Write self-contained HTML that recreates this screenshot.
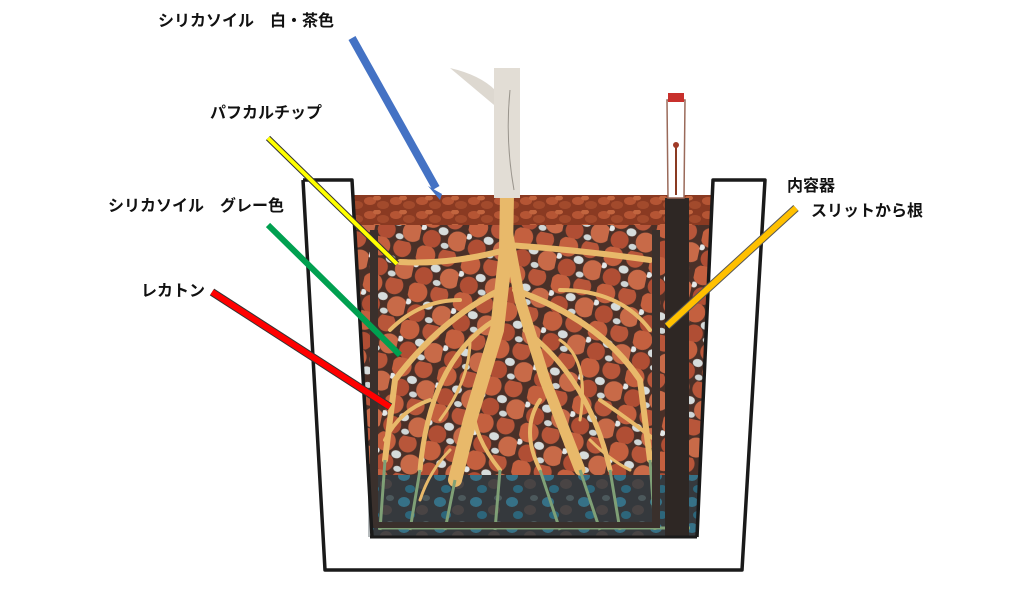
<!DOCTYPE html>
<html><head><meta charset="utf-8"><style>
html,body{margin:0;padding:0;background:#fff;width:1030px;height:600px;overflow:hidden}
svg{display:block}
text{font-family:"Liberation Sans","Noto Sans CJK JP",sans-serif;font-weight:bold;font-size:16px;fill:#111}
</style></head><body>
<svg width="1030" height="600" viewBox="0 0 1030 600" xmlns="http://www.w3.org/2000/svg">
<defs>
<pattern id="top" width="26" height="14" patternUnits="userSpaceOnUse">
<rect width="26" height="14" fill="#8a3a22"/>
<ellipse cx="6" cy="5" rx="6" ry="4" fill="#b55534"/>
<ellipse cx="19" cy="9" rx="6" ry="4" fill="#a24a2c"/>
<ellipse cx="13" cy="2" rx="4" ry="2.5" fill="#c2653f"/>
</pattern>
<pattern id="mix" width="46" height="38" patternUnits="userSpaceOnUse" patternTransform="rotate(12)">
<rect width="46" height="38" fill="#4a3028"/>
<circle cx="9" cy="9" r="10" fill="#c4603f"/>
<circle cx="31" cy="7" r="9" fill="#b8563a"/>
<ellipse cx="22" cy="20" rx="5" ry="4" fill="#d6dcdc"/>
<circle cx="38" cy="27" r="10" fill="#c86a48"/>
<circle cx="12" cy="30" r="9" fill="#b04e34"/>
<ellipse cx="2" cy="20" rx="3" ry="3" fill="#e4e8e8"/>
<ellipse cx="26" cy="34" rx="4" ry="3" fill="#cfd6d6"/>
</pattern>
<pattern id="water" width="36" height="26" patternUnits="userSpaceOnUse">
<rect width="36" height="26" fill="#3b3a3c"/>
<ellipse cx="8" cy="8" rx="6" ry="5" fill="#3d8fae"/>
<ellipse cx="26" cy="16" rx="6" ry="5" fill="#5a4a48"/>
<ellipse cx="14" cy="21" rx="5" ry="4" fill="#2f7e9c"/>
<ellipse cx="30" cy="4" rx="4" ry="3" fill="#5f6a6c"/>
</pattern>
</defs>

<!-- soil -->
<polygon points="354,195 712,195 697,537 372,537" fill="url(#mix)"/>
<polygon points="354,195 712,195 711,225 356,225" fill="url(#top)"/>
<polygon points="368,475 699,475 697,537 372,537" fill="url(#water)"/>
<rect x="368" y="475" width="330" height="62" fill="#2a3a40" opacity="0.35"/>

<!-- roots -->
<g fill="none" stroke="#e8b96a" stroke-linecap="round">
<path d="M507,195 L506,250 L497,330 L470,420 L455,480" stroke-width="14"/>
<path d="M507,230 L520,300 L545,380 L580,470" stroke-width="11"/>
<path d="M505,250 Q450,265 400,262" stroke-width="6"/>
<path d="M508,245 Q580,250 650,260" stroke-width="6"/>
<path d="M500,290 Q440,320 395,380 L385,460" stroke-width="6"/>
<path d="M515,290 Q600,320 640,380 L650,460" stroke-width="6"/>
<path d="M495,320 Q430,360 420,470" stroke-width="5"/>
<path d="M525,330 Q590,380 610,470" stroke-width="5"/>
<path d="M480,380 Q460,420 500,470" stroke-width="4"/>
<path d="M540,400 Q520,430 540,470" stroke-width="4"/>
<path d="M460,300 Q420,300 390,330" stroke-width="4"/>
<path d="M560,290 Q620,290 650,330" stroke-width="4"/>
<path d="M430,400 Q400,410 385,440" stroke-width="4"/>
<path d="M600,400 Q630,420 655,440" stroke-width="4"/>
<path d="M470,340 Q470,380 440,420" stroke-width="3"/>
<path d="M560,340 Q590,360 580,420" stroke-width="3"/>
<path d="M450,450 Q430,470 420,500" stroke-width="3"/>
<path d="M590,440 Q610,460 630,470" stroke-width="3"/>
</g>
<g fill="none" stroke="#7fa076" stroke-width="3">
<path d="M455,480 L445,530 M420,470 L410,530 M385,460 L380,530 M500,470 L495,530 M540,470 L560,530 M580,470 L600,530 M610,470 L620,530 M650,460 L655,530 M378,528 L690,528"/>
</g>

<!-- inner container walls -->
<rect x="370" y="230" width="8" height="298" fill="#3a302c"/>
<rect x="652" y="230" width="8" height="298" fill="#3a302c"/>
<rect x="375" y="522" width="285" height="6" fill="#3a302c"/>

<!-- water indicator -->
<rect x="665" y="198" width="24" height="338" fill="#2e2724"/>
<polygon points="667,100 685,100 684,198 668,198" fill="#fff" stroke="#9a6a5a" stroke-width="1.5"/>
<rect x="668" y="93" width="16" height="9" fill="#c8302c"/>
<line x1="676" y1="145" x2="676" y2="195" stroke="#8a3a22" stroke-width="2"/>
<circle cx="676" cy="145" r="3" fill="#a03a28"/>

<!-- trunk -->
<path d="M450,68 Q480,75 495,90 L500,110 Z" fill="#ddd8d0"/>
<rect x="494" y="68" width="26" height="130" fill="#e2ddd5"/>
<path d="M510,90 Q505,140 514,190" stroke="#9a958d" stroke-width="1" fill="none"/>

<!-- outer pot -->
<path d="M303,180 L352,180 L372,537 M303,180 L325,570 L742,570 L765,180 L713,180 L697,537" fill="none" stroke="#1a1a1a" stroke-width="3.5" stroke-linejoin="round"/>
<line x1="370" y1="537" x2="697" y2="537" stroke="#1a1a1a" stroke-width="3"/>

<!-- arrows -->
<line x1="352" y1="38" x2="436" y2="188" stroke="#4472c4" stroke-width="8"/>
<polygon points="428,186 442,194 440,200" fill="#4472c4"/>
<line x1="268" y1="138" x2="397" y2="264" stroke="#333" stroke-width="6"/>
<line x1="268" y1="138" x2="397" y2="264" stroke="#ffff00" stroke-width="4"/>
<line x1="268" y1="225" x2="400" y2="355" stroke="#00a050" stroke-width="6"/>
<line x1="212" y1="292" x2="390" y2="407" stroke="#333" stroke-width="8"/>
<line x1="212" y1="292" x2="390" y2="407" stroke="#ff0000" stroke-width="6"/>
<line x1="796" y1="208" x2="667" y2="326" stroke="#555" stroke-width="8"/>
<line x1="796" y1="208" x2="667" y2="326" stroke="#ffc000" stroke-width="6"/>

<!-- labels -->
<text x="158" y="26">シリカソイル　白・茶色</text>
<text x="210" y="118">パフカルチップ</text>
<text x="108" y="211">シリカソイル　グレー色</text>
<text x="141" y="296">レカトン</text>
<text x="787" y="191">内容器</text>
<text x="811" y="216">スリットから根</text>
</svg>
</body></html>
